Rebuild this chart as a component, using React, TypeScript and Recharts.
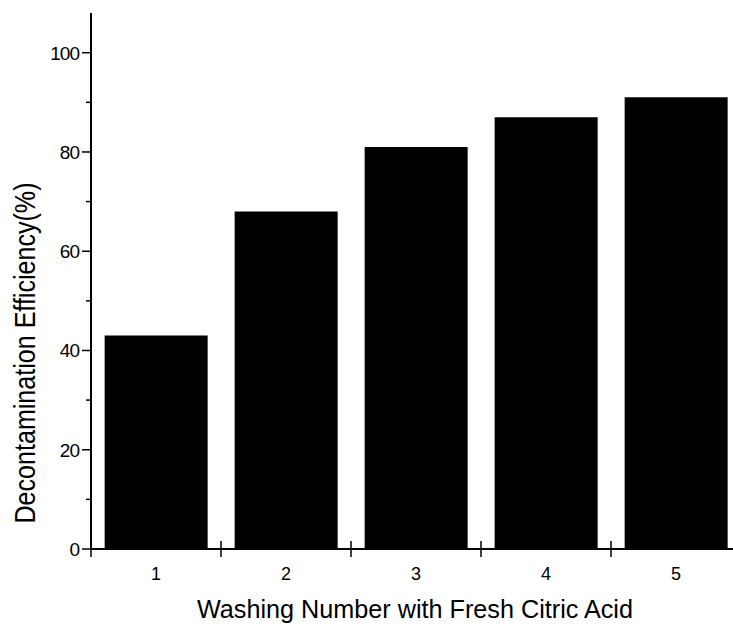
import React from 'react'
import { Bar, BarChart, XAxis, YAxis } from 'recharts'

// washing rounds and the efficiency reached after each one (%)
const washes = ['1', '2', '3', '4', '5']
const efficiency = [43, 68, 81, 87, 91]

// y axis: major ticks carry a label, minor ticks do not
const yTicks = [0, 10, 20, 30, 40, 50, 60, 70, 80, 90, 100]
const yLabelled = [0, 20, 40, 60, 80, 100]

const xTitle = 'Washing Number with Fresh Citric Acid'
const yTitle = 'Decontamination Efficiency(%)'

const data = washes.map((w, i) => ({ wash: w, eff: efficiency[i] }))

const FONT = '"Liberation Sans", Arial, sans-serif'

const YTick = (props: any) => {
    const { x, y, payload } = props
    const major = yLabelled.includes(payload.value)
    return (
        <g>
            <line x1={x - (major ? 9 : 5)} x2={x} y1={y} y2={y} stroke="#000" strokeWidth={1.5} />
            {major && (
                <text x={x - 12} y={y + 7} textAnchor="end" fontSize={19} fontFamily={FONT} fill="#000" letterSpacing={-1}>
                    {payload.value}
                </text>
            )}
        </g>
    )
}

const XTick = (props: any) => {
    const { x, y, payload } = props
    const half = payload.offset || 65
    return (
        <g>
            <line x1={x - half} x2={x - half} y1={y - 8} y2={y + 8} stroke="#000" strokeWidth={1.5} />
            <text x={x} y={y + 31} textAnchor="middle" fontSize={18} fontFamily={FONT} fill="#000">
                {payload.value}
            </text>
        </g>
    )
}

const XTitle = (props: any) => {
    const { viewBox } = props
    const cx = viewBox.x + 324
    return (
        <text x={cx} y={viewBox.y + 69} textAnchor="middle" fontSize={25} fontFamily={FONT} fill="#000"
            textLength={436} lengthAdjust="spacingAndGlyphs">
            {xTitle}
        </text>
    )
}

const YTitle = (props: any) => {
    const { viewBox } = props
    const cy = viewBox.y + viewBox.height / 2 + 72
    return (
        <text x={35} y={cy} transform={`rotate(-90, 35, ${cy})`} textAnchor="middle" fontSize={30} fontFamily={FONT}
            fill="#000" textLength={341} lengthAdjust="spacingAndGlyphs">
            {yTitle}
        </text>
    )
}

const App = () => {
    return (
        <div style={{ position: 'absolute', left: 0, top: 0, background: '#fff' }}>
            <BarChart
                width={733}
                height={633}
                data={data}
                barCategoryGap="10.5%"
                margin={{ top: 13, right: -8, left: 0, bottom: 0 }}
            >
                <XAxis
                    dataKey="wash"
                    height={84}
                    tickSize={0}
                    tickMargin={0}
                    tickLine={false}
                    interval={0}
                    axisLine={{ stroke: '#000', strokeWidth: 2 }}
                    tick={<XTick />}
                    label={<XTitle />}
                />
                <YAxis
                    width={91}
                    domain={[0, 108]}
                    ticks={yTicks}
                    interval={0}
                    tickSize={0}
                    tickMargin={0}
                    tickLine={false}
                    allowDataOverflow
                    axisLine={{ stroke: '#000', strokeWidth: 2 }}
                    tick={<YTick />}
                    label={<YTitle />}
                />
                <Bar dataKey="eff" fill="#000" isAnimationActive={false} />
            </BarChart>
        </div>
    )
}

export default App
